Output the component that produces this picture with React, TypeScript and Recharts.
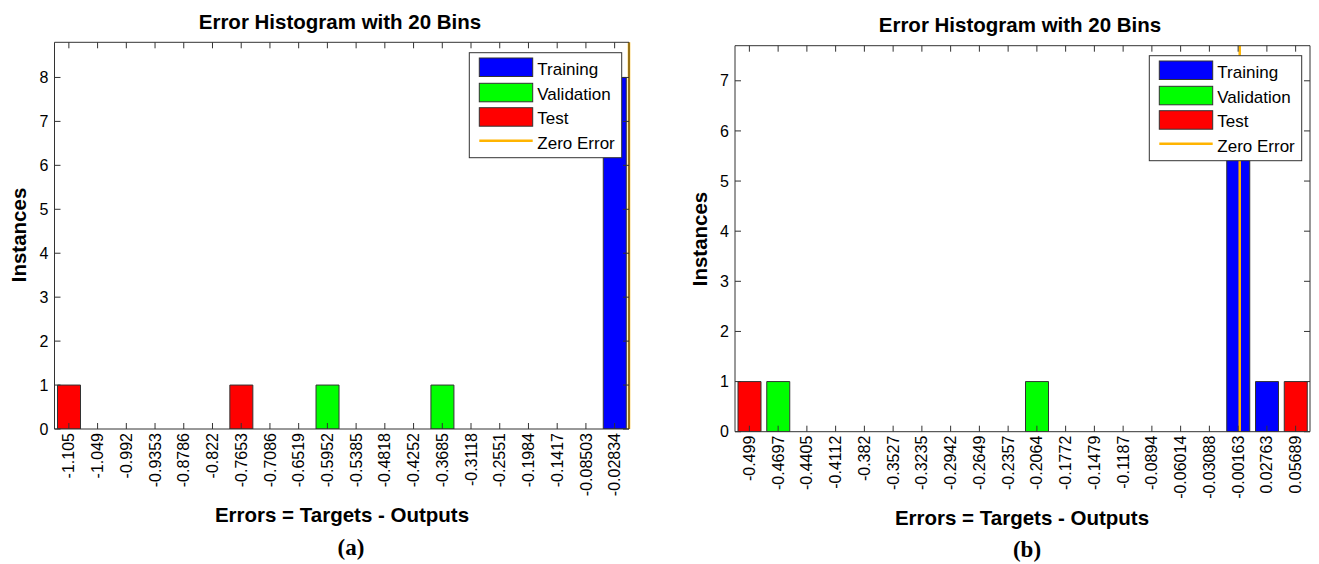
import React from 'react';
import { BarChart, Bar, XAxis, YAxis, ReferenceLine } from 'recharts';

const FONT = "'Liberation Sans', Arial, Helvetica, sans-serif";
const SERIF = "'Liberation Serif', 'Times New Roman', serif";

// ---- Chart (a) ----
const labelsA = ['-1.105', '-1.049', '-0.992', '-0.9353', '-0.8786', '-0.822', '-0.7653', '-0.7086', '-0.6519', '-0.5952',
  '-0.5385', '-0.4818', '-0.4252', '-0.3685', '-0.3118', '-0.2551', '-0.1984', '-0.1417', '-0.08503', '-0.02834'];
const trainingA = [0, 0, 0, 0, 0, 0, 0, 0, 0, 0, 0, 0, 0, 0, 0, 0, 0, 0, 0, 8];
const validationA = [0, 0, 0, 0, 0, 0, 0, 0, 0, 1, 0, 0, 0, 1, 0, 0, 0, 0, 0, 0];
const testA = [1, 0, 0, 0, 0, 0, 1, 0, 0, 0, 0, 0, 0, 0, 0, 0, 0, 0, 0, 0];
const yTicksA = [0, 1, 2, 3, 4, 5, 6, 7, 8];
const yMaxA = 8.8;

// ---- Chart (b) ----
const labelsB = ['-0.499', '-0.4697', '-0.4405', '-0.4112', '-0.382', '-0.3527', '-0.3235', '-0.2942', '-0.2649', '-0.2357',
  '-0.2064', '-0.1772', '-0.1479', '-0.1187', '-0.0894', '-0.06014', '-0.03088', '-0.00163', '0.02763', '0.05689'];
const trainingB = [0, 0, 0, 0, 0, 0, 0, 0, 0, 0, 0, 0, 0, 0, 0, 0, 0, 7, 1, 0];
const validationB = [0, 1, 0, 0, 0, 0, 0, 0, 0, 0, 1, 0, 0, 0, 0, 0, 0, 0, 0, 0];
const testB = [1, 0, 0, 0, 0, 0, 0, 0, 0, 0, 0, 0, 0, 0, 0, 0, 0, 0, 0, 1];
const yTicksB = [0, 1, 2, 3, 4, 5, 6, 7];
const yMaxB = 7.7;

const TITLE = 'Error Histogram with 20 Bins';
const XLABEL = 'Errors = Targets - Outputs';
const YLABEL = 'Instances';
const legendItems = ['Training', 'Validation', 'Test', 'Zero Error'];

const BLUE = '#0000FF';
const GREEN = '#00FF00';
const RED = '#FF0000';
const ORANGE = '#FFB400';
const EDGE = '#333333';
const AXIS = '#333333';

type HistProps = {
  labels: string[];
  training: number[];
  validation: number[];
  test: number[];
  yTicks: number[];
  yMax: number;
  width: number;
  height: number;
  margin: { top: number; right: number; bottom: number; left: number };
};

function Hist({ labels, training, validation, test, yTicks, yMax, width, height, margin }: HistProps) {
  const data = labels.map((l, i) => ({
    idx: i,
    label: l,
    training: training[i],
    validation: validation[i],
    test: test[i],
  }));
  const xTicks = labels.map((_, i) => i);
  const first = parseFloat(labels[0]);
  const last = parseFloat(labels[labels.length - 1]);
  const binW = (last - first) / (labels.length - 1);
  const zeroIdx = (0 - first) / binW;
  const domain: [number, number] = [-0.5, labels.length - 0.5];

  const BottomTick = (p: any) => {
    const { x, y, payload } = p;
    const ty = y + 4;
    return (
      <g>
        <line x1={x} y1={y} x2={x} y2={y - 6} stroke={AXIS} strokeWidth={1} />
        <text
          x={x}
          y={ty}
          dy="0.35em"
          textAnchor="end"
          transform={`rotate(-90 ${x} ${ty})`}
          fontSize={16}
          fontFamily={FONT}
          fill="#000"
        >
          {labels[payload.value]}
        </text>
      </g>
    );
  };
  const TopTick = (p: any) => {
    const { x, y } = p;
    return <line x1={x} y1={y} x2={x} y2={y + 6} stroke={AXIS} strokeWidth={1} />;
  };
  const LeftTick = (p: any) => {
    const { x, y, payload } = p;
    return (
      <g>
        <line x1={x} y1={y} x2={x + 6} y2={y} stroke={AXIS} strokeWidth={1} />
        <text x={x - 6} y={y} dy="0.35em" textAnchor="end" fontSize={16} fontFamily={FONT} fill="#000">
          {payload.value}
        </text>
      </g>
    );
  };
  const RightTick = (p: any) => {
    const { x, y } = p;
    return <line x1={x} y1={y} x2={x - 6} y2={y} stroke={AXIS} strokeWidth={1} />;
  };

  return (
    <BarChart width={width} height={height} data={data} margin={margin} barSize={23}>
      <XAxis
        dataKey="idx"
        type="number"
        domain={domain}
        ticks={xTicks}
        interval={0}
        allowDataOverflow
        height={80}
        tickSize={0}
        tickMargin={0}
        tickLine={false}
        axisLine={{ stroke: AXIS, strokeWidth: 1 }}
        tick={BottomTick}
      />
      <XAxis
        xAxisId="top"
        dataKey="idx"
        type="number"
        orientation="top"
        domain={domain}
        ticks={xTicks}
        interval={0}
        allowDataOverflow
        height={1}
        tickSize={0}
        tickMargin={0}
        tickLine={false}
        axisLine={{ stroke: AXIS, strokeWidth: 1 }}
        tick={TopTick}
      />
      <YAxis
        type="number"
        domain={[0, yMax]}
        ticks={yTicks}
        interval={0}
        allowDataOverflow
        width={40}
        tickSize={0}
        tickMargin={0}
        tickLine={false}
        axisLine={{ stroke: AXIS, strokeWidth: 1 }}
        tick={LeftTick}
      />
      <YAxis
        yAxisId="right"
        orientation="right"
        type="number"
        domain={[0, yMax]}
        ticks={yTicks}
        interval={0}
        allowDataOverflow
        width={1}
        tickSize={0}
        tickMargin={0}
        tickLine={false}
        axisLine={{ stroke: AXIS, strokeWidth: 1 }}
        tick={RightTick}
      />
      <Bar dataKey="training" stackId="s" fill={BLUE} stroke={EDGE} strokeWidth={1} isAnimationActive={false} />
      <Bar dataKey="validation" stackId="s" fill={GREEN} stroke={EDGE} strokeWidth={1} isAnimationActive={false} />
      <Bar dataKey="test" stackId="s" fill={RED} stroke={EDGE} strokeWidth={1} isAnimationActive={false} />
      <ReferenceLine x={zeroIdx} stroke={ORANGE} strokeWidth={2.5} ifOverflow="visible" />
    </BarChart>
  );
}

function LegendBox({ x, y }: { x: number; y: number }) {
  const fills = [BLUE, GREEN, RED];
  const rowTop = [5.3, 30.6, 55];
  return (
    <g>
      <rect x={x} y={y} width={152.4} height={105} fill="#fff" stroke={EDGE} strokeWidth={1} />
      {fills.map((f, i) => (
        <rect key={i} x={x + 10} y={y + rowTop[i]} width={53.4} height={18.5} fill={f} stroke={EDGE} strokeWidth={1} />
      ))}
      <line x1={x + 10} y1={y + 88} x2={x + 63.4} y2={y + 88} stroke={ORANGE} strokeWidth={2.5} />
      {legendItems.map((t, i) => (
        <text
          key={t}
          x={x + 68}
          y={y + 22.3 + i * 24.5}
          fontSize={17}
          fontFamily={FONT}
          fill="#000"
        >
          {t}
        </text>
      ))}
    </g>
  );
}

export default function App() {
  return (
    <div style={{ position: 'absolute', left: 0, top: 0, width: 1319, height: 564, background: '#fff', overflow: 'hidden' }}>
      <div style={{ position: 'absolute', left: 0, top: 0 }}>
        <Hist
          labels={labelsA}
          training={trainingA}
          validation={validationA}
          test={testA}
          yTicks={yTicksA}
          yMax={yMaxA}
          width={660}
          height={564}
          margin={{ top: 41.3, right: 30, bottom: 55, left: 14.5 }}
        />
      </div>
      <div style={{ position: 'absolute', left: 660, top: 0 }}>
        <Hist
          labels={labelsB}
          training={trainingB}
          validation={validationB}
          test={testB}
          yTicks={yTicksB}
          yMax={yMaxB}
          width={659}
          height={564}
          margin={{ top: 44.7, right: 8, bottom: 52.3, left: 35 }}
        />
      </div>
      <svg
        width={1319}
        height={564}
        style={{ position: 'absolute', left: 0, top: 0, pointerEvents: 'none' }}
      >
        <text x={340} y={28.5} textAnchor="middle" fontSize={20.5} fontWeight="bold" fontFamily={FONT} fill="#000">{TITLE}</text>
        <text x={1020} y={31.7} textAnchor="middle" fontSize={20.5} fontWeight="bold" fontFamily={FONT} fill="#000">{TITLE}</text>
        <text x={26} y={235} textAnchor="middle" transform="rotate(-90 26 235)" fontSize={20.5} fontWeight="bold" fontFamily={FONT} fill="#000">{YLABEL}</text>
        <text x={707} y={239} textAnchor="middle" transform="rotate(-90 707 239)" fontSize={20.5} fontWeight="bold" fontFamily={FONT} fill="#000">{YLABEL}</text>
        <text x={342} y={522} textAnchor="middle" fontSize={20.5} fontWeight="bold" fontFamily={FONT} fill="#000">{XLABEL}</text>
        <text x={1022} y={525} textAnchor="middle" fontSize={20.5} fontWeight="bold" fontFamily={FONT} fill="#000">{XLABEL}</text>
        <text x={351} y={555} textAnchor="middle" fontSize={23} fontWeight="bold" fontFamily={SERIF} fill="#000">(a)</text>
        <text x={1027} y={557} textAnchor="middle" fontSize={23} fontWeight="bold" fontFamily={SERIF} fill="#000">(b)</text>
        <LegendBox x={469.3} y={52.7} />
        <LegendBox x={1149.3} y={55.7} />
      </svg>
    </div>
  );
}
